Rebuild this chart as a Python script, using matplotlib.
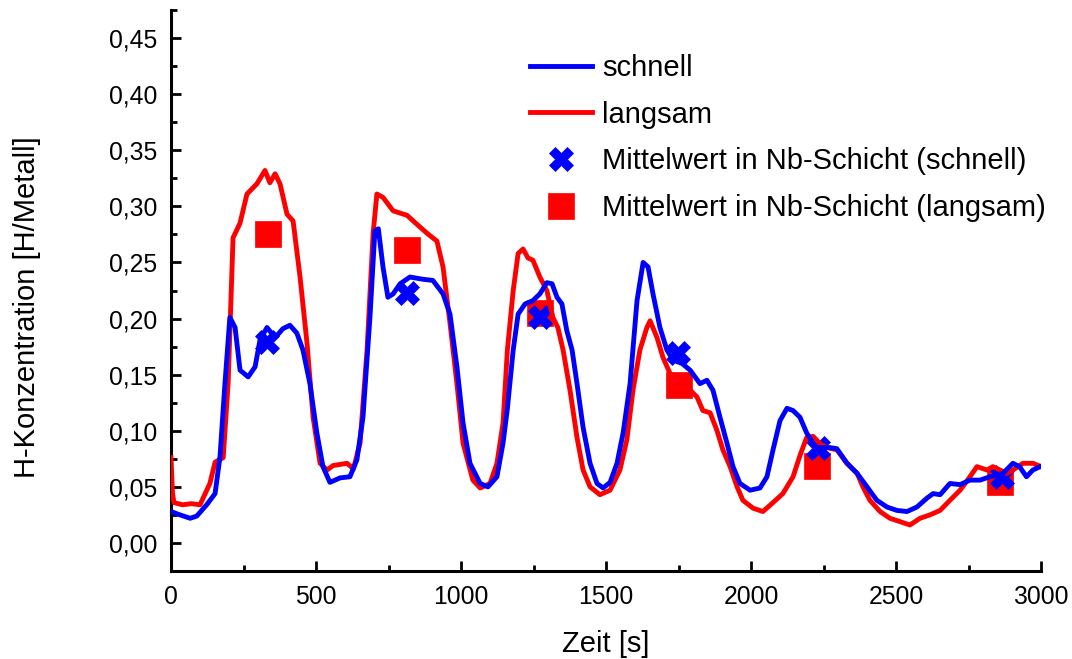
import matplotlib
matplotlib.use("Agg")
import matplotlib.pyplot as plt
from matplotlib.ticker import MultipleLocator, FixedLocator

plt.rcParams['font.family'] = ['Liberation Sans', 'DejaVu Sans']

# langsam (red)
red_x = [0, 5, 10, 40, 70, 100, 134, 152, 180, 197, 214, 238, 262, 296, 324, 341, 359, 376,
         400, 421, 445, 469, 490, 514, 538, 559, 607, 629, 652, 676, 697, 710, 731, 766, 814,
         848, 883, 917, 938, 962, 986, 1007, 1041, 1066, 1100, 1124, 1145, 1160, 1180, 1197,
         1214, 1231, 1248, 1272, 1296, 1317, 1334, 1352, 1376, 1400, 1421, 1445, 1479, 1514,
         1548, 1572, 1593, 1617, 1641, 1652, 1676, 1697, 1721, 1750, 1779, 1814, 1834, 1859,
         1883, 1903, 1928, 1952, 1972, 2007, 2041, 2076, 2110, 2145, 2169, 2192, 2214, 2240,
         2262, 2296, 2331, 2366, 2386, 2410, 2445, 2479, 2514, 2548, 2583, 2617, 2652, 2686,
         2721, 2755, 2779, 2814, 2834, 2883, 2903, 2938, 2972, 3000]
red_y = [0.076, 0.045, 0.036, 0.034, 0.035, 0.034, 0.053, 0.072, 0.076, 0.142, 0.272, 0.285,
         0.311, 0.320, 0.332, 0.321, 0.329, 0.320, 0.293, 0.287, 0.237, 0.178, 0.112, 0.071,
         0.065, 0.069, 0.071, 0.066, 0.089, 0.172, 0.276, 0.311, 0.308, 0.296, 0.292, 0.284,
         0.276, 0.269, 0.246, 0.196, 0.142, 0.089, 0.056, 0.049, 0.053, 0.071, 0.107, 0.172,
         0.225, 0.258, 0.262, 0.254, 0.252, 0.237, 0.225, 0.201, 0.192, 0.172, 0.136, 0.094,
         0.065, 0.050, 0.043, 0.047, 0.065, 0.092, 0.136, 0.172, 0.192, 0.198, 0.183, 0.165,
         0.151, 0.145, 0.139, 0.130, 0.118, 0.116, 0.100, 0.083, 0.068, 0.050, 0.038, 0.031,
         0.028, 0.036, 0.044, 0.059, 0.078, 0.094, 0.095, 0.088, 0.085, 0.083, 0.071, 0.062,
         0.050, 0.038, 0.028, 0.022, 0.019, 0.016, 0.022, 0.025, 0.029, 0.038, 0.047, 0.059,
         0.068, 0.065, 0.068, 0.062, 0.065, 0.071, 0.071, 0.068]

# schnell (blue)
blue_x = [0, 31, 66, 89, 123, 152, 169, 186, 203, 221, 238, 266, 290, 307, 331, 359, 386, 410,
          434, 455, 479, 503, 524, 548, 583, 617, 641, 662, 686, 703, 715, 731, 748, 766, 790,
          824, 869, 903, 938, 962, 986, 1007, 1031, 1066, 1093, 1124, 1145, 1160, 1180, 1197,
          1221, 1248, 1272, 1296, 1314, 1331, 1348, 1365, 1383, 1400, 1421, 1445, 1469, 1490,
          1514, 1538, 1559, 1583, 1607, 1628, 1645, 1662, 1686, 1710, 1731, 1762, 1790, 1824,
          1848, 1869, 1893, 1917, 1938, 1962, 1997, 2031, 2055, 2076, 2100, 2124, 2145, 2169,
          2192, 2224, 2272, 2296, 2331, 2366, 2400, 2434, 2469, 2503, 2538, 2572, 2607, 2628,
          2652, 2686, 2721, 2755, 2790, 2824, 2869, 2903, 2926, 2950, 2972, 2997]
blue_y = [0.028, 0.025, 0.022, 0.024, 0.034, 0.044, 0.077, 0.142, 0.201, 0.192, 0.154, 0.148,
          0.157, 0.181, 0.192, 0.183, 0.191, 0.194, 0.187, 0.172, 0.142, 0.098, 0.068, 0.054,
          0.058, 0.059, 0.074, 0.112, 0.201, 0.278, 0.280, 0.246, 0.219, 0.222, 0.231, 0.237,
          0.235, 0.234, 0.222, 0.204, 0.157, 0.107, 0.071, 0.053, 0.050, 0.059, 0.089, 0.120,
          0.172, 0.204, 0.213, 0.216, 0.222, 0.232, 0.231, 0.219, 0.213, 0.189, 0.172, 0.142,
          0.103, 0.071, 0.053, 0.049, 0.054, 0.071, 0.098, 0.142, 0.216, 0.250, 0.246, 0.222,
          0.192, 0.172, 0.163, 0.160, 0.154, 0.142, 0.145, 0.136, 0.112, 0.089, 0.068, 0.053,
          0.047, 0.049, 0.059, 0.083, 0.109, 0.120, 0.118, 0.112, 0.098, 0.085, 0.085, 0.084,
          0.071, 0.062, 0.050, 0.038, 0.032, 0.029, 0.028, 0.032, 0.040, 0.044, 0.043, 0.053,
          0.052, 0.056, 0.056, 0.059, 0.062, 0.071, 0.068, 0.059, 0.065, 0.068]

# Mittelwerte in Nb-Schicht
mean_schnell_x = [332, 813, 1272, 1748, 2232, 2864]
mean_schnell_y = [0.179, 0.223, 0.201, 0.169, 0.085, 0.059]
mean_langsam_x = [334, 813, 1272, 1752, 2227, 2859]
mean_langsam_y = [0.275, 0.261, 0.205, 0.141, 0.069, 0.054]

yticks = [0.00, 0.05, 0.10, 0.15, 0.20, 0.25, 0.30, 0.35, 0.40, 0.45]
ytick_labels = ["0,00", "0,05", "0,10", "0,15", "0,20", "0,25", "0,30", "0,35", "0,40", "0,45"]
xticks = [0, 500, 1000, 1500, 2000, 2500, 3000]
xtick_labels = ["0", "500", "1000", "1500", "2000", "2500", "3000"]

fig = plt.figure(figsize=(10.72, 6.59), dpi=100)
ax = fig.add_axes([171/1072, 1-571/659, 870/1072, 561/659])

ax.plot(mean_langsam_x, mean_langsam_y, ls='none', marker='s', ms=18.5, color='#ff0000',
        mec='#ff0000', mew=0.5, label='Mittelwert in Nb-Schicht (langsam)', zorder=2)
ax.plot(mean_schnell_x, mean_schnell_y, ls='none', marker='X', ms=17, color='#0000ff',
        mec='#0000ff', mew=0.5, label='Mittelwert in Nb-Schicht (schnell)', zorder=3)
ax.plot(red_x, red_y, color='#ff0000', lw=3.5, label='langsam', zorder=4)
ax.plot(blue_x, blue_y, color='#0000ff', lw=3.5, label='schnell', zorder=5)

ax.set_xlim(0, 3000)
ax.set_ylim(-0.025, 0.475)
ax.xaxis.set_major_locator(FixedLocator(xticks))
ax.set_xticklabels(xtick_labels)
ax.xaxis.set_minor_locator(MultipleLocator(250))
ax.yaxis.set_major_locator(FixedLocator(yticks))
ax.set_yticklabels(ytick_labels)
ax.yaxis.set_minor_locator(MultipleLocator(0.025))

for s in ['top', 'right']:
    ax.spines[s].set_visible(False)
for s in ['left', 'bottom']:
    ax.spines[s].set_linewidth(2.2)
ax.tick_params(which='major', direction='in', length=7, width=2, labelsize=17.8, pad=10)
ax.tick_params(which='minor', direction='in', length=4.5, width=2)

ax.set_ylabel('H-Konzentration [H/Metall]', fontsize=21, va='center')
ax.yaxis.set_label_coords(-0.165, 0.471)
ax.set_xlabel('Zeit [s]', fontsize=21, va='center')
ax.xaxis.set_label_coords(0.4998, -0.130)

h, l = ax.get_legend_handles_labels()
order = [3, 2, 1, 0]
leg = ax.legend([h[i] for i in order], [l[i] for i in order], loc='upper left',
                bbox_to_anchor=(530/1072, 1-54/659), bbox_transform=fig.transFigure,
                frameon=False, fontsize=21, handlelength=2.13, handletextpad=0.33,
                borderpad=0, borderaxespad=0, labelspacing=0.64, markerscale=1.0)

fig.savefig('out.png', dpi=100)
